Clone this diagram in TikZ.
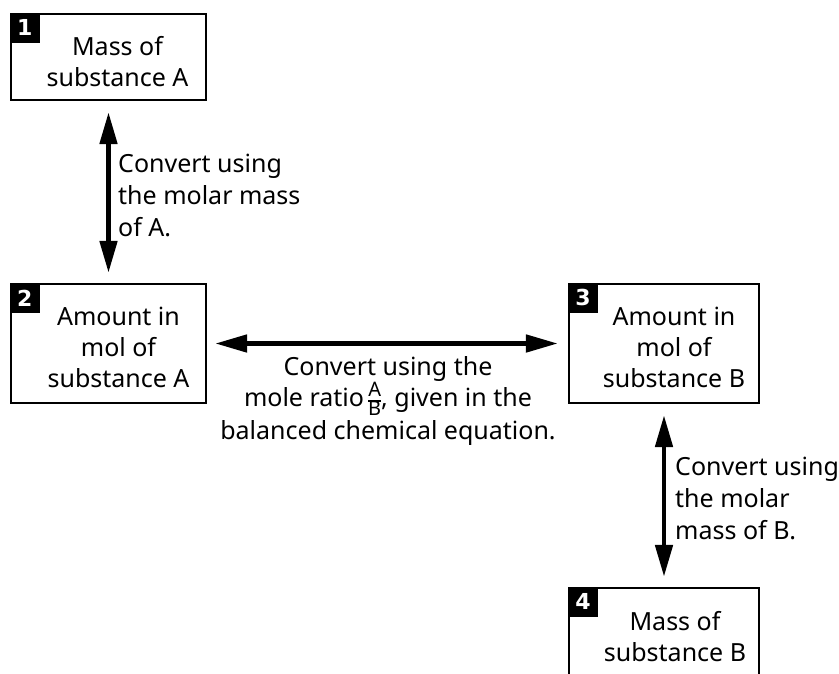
\documentclass[tikz,border=0pt]{standalone}
\usepackage{fontspec}
\setmainfont{Noto Sans}
\newfontfamily\numfont{DejaVu Sans}
\usetikzlibrary{arrows.meta}
\newcommand{\abfrac}{{\fontsize{20}{17}\selectfont\setlength{\tabcolsep}{0pt}\setlength{\arrayrulewidth}{1.3pt}\renewcommand{\arraystretch}{0.82}\begin{tabular}{c}A\\\hline B\end{tabular}}}
\begin{document}
\begin{tikzpicture}[x=1pt,y=-1pt,
  box/.style={draw, line width=2.2pt, inner sep=0pt, outer sep=1.1pt},
  boxtext/.style={align=center, inner sep=0pt, font=\fontsize{25}{31}\selectfont},
  numbox/.style={fill=black, text=white, minimum size=30pt, inner sep=0pt, outer sep=0pt,
    anchor=north west, font=\fontsize{22}{22}\numfont\bfseries},
  lbl/.style={align=left, inner sep=0pt, anchor=west, font=\fontsize{25}{32}\selectfont},
  midlbl/.style={align=center, inner sep=0pt, font=\fontsize{25}{31}\selectfont},
  conn/.style={line width=4.8pt,
    {Triangle[length=32pt,width=17pt]}-{Triangle[length=32pt,width=17pt]}}]
\useasboundingbox (0,0) rectangle (839,673);
\clip (0,0) rectangle (839,673);
% boxes
\node[box, minimum width=195pt, minimum height=86pt] (b1) at (108.5,57) {};
\node[box, minimum width=195pt, minimum height=119pt] (b2) at (108.5,343.5) {};
\node[box, minimum width=190pt, minimum height=119pt] (b3) at (664,343.5) {};
\node[box, minimum width=190pt, minimum height=92pt] (b4) at (664,634) {};
% number squares
\node[numbox] (n1) at (b1.north west) {1};
\node[numbox] (n2) at (b2.north west) {2};
\node[numbox] (n3) at (b3.north west) {3};
\node[numbox] (n4) at (b4.north west) {4};
% box texts
\node[boxtext] (t1) at ([shift={(9,5)}]b1.center) {Mass of\\substance A};
\node[boxtext] (t2) at ([shift={(10,4)}]b2.center) {Amount in\\mol of\\substance A};
\node[boxtext] (t3) at ([shift={(10,4)}]b3.center) {Amount in\\mol of\\substance B};
\node[boxtext] (t4) at (675,637) {Mass of\\substance B};
% connectors
\draw[conn, shorten <=11pt, shorten >=10pt] (b1.south) -- (b2.north);
\draw[conn, shorten <=8pt, shorten >=10pt] (b2.east) -- (b3.west);
\draw[conn, shorten <=11pt, shorten >=10pt] (b3.south) -- (b4.north);
% labels
\node[lbl] (l1) at (118,195) {Convert using\\the molar mass\\of A.};
\node[lbl] (l3) at (675,498) {Convert using\\the molar\\mass of B.};
\node[midlbl] (l2) at (388,401) {Convert using the\\mole ratio\,\abfrac, given in the\\balanced chemical equation.};
\end{tikzpicture}
\end{document}
